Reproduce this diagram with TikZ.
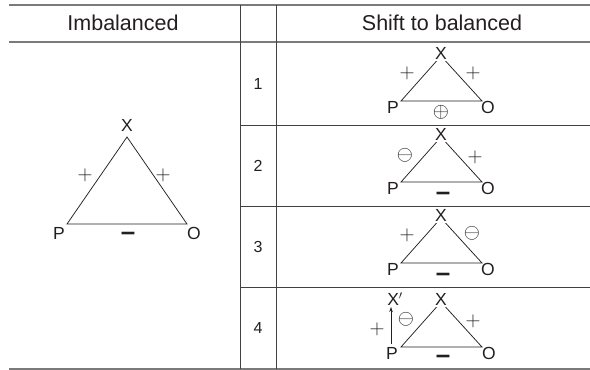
\documentclass[tikz,border=0pt]{standalone}
\usepackage{fontspec}
\setmainfont{Liberation Sans}
\usetikzlibrary{arrows.meta}
\definecolor{ink}{HTML}{231F20}
\definecolor{rulegray}{HTML}{7A7A7A}
\begin{document}
\begin{tikzpicture}[x=1pt,y=-1pt,
  lbl/.style={inner sep=0pt,text=ink,font=\fontsize{17.5}{17.5}\selectfont},
  apex/.style={inner sep=2pt,fill=white,text=ink,font=\fontsize{17.5}{17.5}\selectfont},
  hdr/.style={inner sep=0pt,text=ink,font=\fontsize{21.5}{21.5}\selectfont},
  num/.style={inner sep=0pt,text=ink,font=\fontsize{16}{16}\selectfont},
  sgn/.style={inner sep=0pt,text=ink,font=\fontsize{21}{21}\selectfont},
  csgn/.style={inner sep=0pt,text=ink,font=\fontsize{19.5}{19.5}\selectfont},
  neg/.style={inner sep=0pt,text=ink,font=\fontsize{26}{26}\selectfont\bfseries},
  tri/.style={draw=ink,line width=0.75pt},
  rulethick/.style={draw=rulegray,line width=1.6pt},
  rulethin/.style={draw=ink!85,line width=0.8pt}]
\useasboundingbox (0,0) rectangle (590,370);
% table
\draw[rulethick] (9,5) -- (590,5);
\draw[rulethick] (9,42) -- (590,42);
\draw[rulethick] (9,369) -- (590,369);
\draw[rulethin] (240,5) -- (240,369);
\draw[rulethin] (276,5) -- (276,369);
\draw[rulethin] (240,125) -- (590,125);
\draw[rulethin] (240,206) -- (590,206);
\draw[rulethin] (240,287) -- (590,287);
% headers
\node[hdr] (h1) at (123,23) {Imbalanced};
\node[hdr] (h2) at (442,23) {Shift to balanced};
% numbers
\node[num] (n1) at (258,84) {1};
\node[num] (n2) at (258,166) {2};
\node[num] (n3) at (258,247) {3};
\node[num] (n4) at (258,328) {4};
% left triangle
\coordinate (a0) at (127,137);
\coordinate (b0) at (67,224);
\coordinate (c0) at (187,224);
\draw[tri] (a0) -- (b0) -- (c0) -- cycle;
\node[lbl] (x0) at (127,125) {X};
\node[lbl] (p0) at (59,233) {P};
\node[lbl] (o0) at (194,233) {O};
\node[sgn] (s0a) at (85,175) {$+$};
\node[sgn] (s0b) at (163,175) {$+$};
\node[neg] (m0) at (128,236) {–};
% row 1
\coordinate (a1) at (441,56);
\coordinate (b1) at (401,101);
\coordinate (c1) at (482,101);
\draw[tri] (a1) -- (b1) -- (c1) -- cycle;
\node[apex] (x1) at (441,53) {X};
\node[lbl] (p1) at (393,107) {P};
\node[lbl] (o1) at (488,107) {O};
\node[sgn] (s1a) at (407,73) {$+$};
\node[sgn] (s1b) at (473,73) {$+$};
\node[csgn] (s1c) at (441,112) {$\oplus$};
% row 2
\coordinate (a2) at (441,137);
\coordinate (b2) at (401,182);
\coordinate (c2) at (482,182);
\draw[tri] (a2) -- (b2) -- (c2) -- cycle;
\node[apex] (x2) at (441,134) {X};
\node[lbl] (p2) at (393,188) {P};
\node[lbl] (o2) at (488,188) {O};
\node[csgn] (s2a) at (405,155) {$\ominus$};
\node[sgn] (s2b) at (475,157) {$+$};
\node[neg] (m2) at (443,196) {–};
% row 3
\coordinate (a3) at (441,218);
\coordinate (b3) at (401,263);
\coordinate (c3) at (482,263);
\draw[tri] (a3) -- (b3) -- (c3) -- cycle;
\node[apex] (x3) at (441,215) {X};
\node[lbl] (p3) at (393,269) {P};
\node[lbl] (o3) at (488,269) {O};
\node[sgn] (s3a) at (407,235) {$+$};
\node[csgn] (s3b) at (472,233) {$\ominus$};
\node[neg] (m3) at (443,277) {–};
% row 4
\coordinate (a4) at (441,302);
\coordinate (b4) at (401,347);
\coordinate (c4) at (482,347);
\draw[tri] (a4) -- (b4) -- (c4) -- cycle;
\node[apex] (x4) at (441,299) {X};
\node[lbl] (p4) at (392,353) {P};
\node[lbl] (o4) at (489,353) {O};
\node[lbl] (xp) at (395,299) {X$'$};
\coordinate (ar1) at (391,344);
\coordinate (ar2) at (391,307);
\draw[tri,-{Stealth[length=5pt,width=3.5pt]}] (ar1) -- (ar2);
\node[sgn] (s4a) at (377,329) {$+$};
\node[csgn] (s4b) at (406,319) {$\ominus$};
\node[sgn] (s4c) at (473,321) {$+$};
\node[neg] (m4) at (443,359) {–};
\end{tikzpicture}
\end{document}
